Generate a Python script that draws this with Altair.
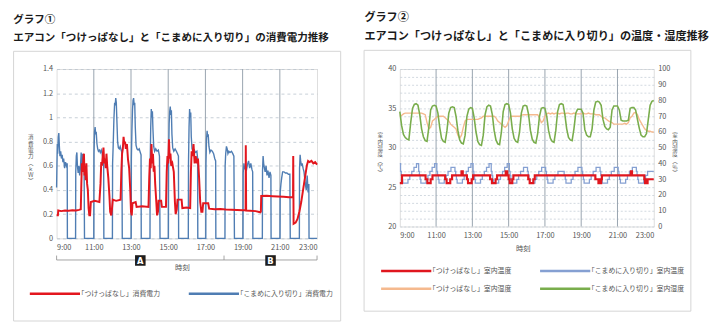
import altair as alt
import pandas as pd

FONT = "Noto Sans CJK JP"
TXT = "#555555"
TITLE_C = "#1a1a1a"
BOX_C = "#d4d4d4"
VLINE_C = "#98a3ae"
GRID_C = "#b9c3cd"

hour_ticks = [9, 11, 13, 15, 17, 19, 21, 23]
hour_lines = [11, 13, 15, 17, 19, 21]

# ---------------- グラフ① data ----------------
g1_title = "グラフ①"
g1_subtitle = "エアコン「つけっぱなし」と「こまめに入り切り」の消費電力推移"
g1_series = ["「つけっぱなし」消費電力", "「こまめに入り切り」消費電力"]
g1_colors = ["#e3161e", "#4f7db3"]
g1_y_title = ["消", "費", "電", "力", "︵", "ｋ", "Ｗ", "︶"]
power_ticks = [0, 0.2, 0.4, 0.6, 0.8, 1.0, 1.2, 1.4]

keep_kw_t = [9.00, 9.07, 9.09, 9.25, 9.45, 9.65, 9.85, 10.05, 10.20, 10.30,
             10.33, 10.36, 10.40, 10.44, 10.47, 10.50, 10.53, 10.57, 10.60, 10.64,
             10.68, 10.72, 10.76, 10.80, 10.84, 11.05, 11.30, 11.36, 11.40, 11.44,
             11.48, 11.52, 11.56, 11.60, 11.64, 11.68, 11.72, 11.78, 11.84, 11.88,
             11.94, 11.98, 12.02, 12.20, 12.44, 12.48, 12.52, 12.56, 12.60, 12.64,
             12.68, 12.72, 12.78, 12.84, 12.90, 12.96, 13.00, 13.04, 13.08, 13.25,
             13.30, 13.60, 13.94, 13.98, 14.02, 14.06, 14.10, 14.14, 14.18, 14.22,
             14.26, 14.30, 14.36, 14.40, 14.45, 14.48, 14.62, 14.66, 14.88, 14.92,
             14.96, 15.00, 15.04, 15.08, 15.12, 15.16, 15.22, 15.30, 15.36, 15.40,
             15.46, 15.50, 15.72, 15.76, 16.00, 16.18, 16.22, 16.26, 16.30, 16.36,
             16.42, 16.48, 16.54, 16.60, 16.66, 16.72, 16.78, 16.84, 16.88, 17.15,
             17.20, 17.50, 17.80, 18.10, 18.40, 18.70, 19.00, 19.16, 19.17, 19.19,
             19.40, 19.70, 19.95, 19.98, 20.00, 20.30, 20.60, 20.90, 21.20, 21.50,
             21.71, 21.72, 21.74, 21.85, 21.95, 22.05, 22.15, 22.25, 22.35, 22.45,
             22.52, 22.60, 22.70, 22.80, 22.90, 23.00]
keep_kw_v = [0.19, 0.19, 0.23, 0.225, 0.23, 0.228, 0.232, 0.23, 0.235, 0.24,
             0.45, 0.62, 0.55, 0.66, 0.70, 0.52, 0.60, 0.48, 0.62, 0.45,
             0.40, 0.25, 0.19, 0.19, 0.30, 0.31, 0.30, 0.45, 0.63, 0.60,
             0.68, 0.75, 0.62, 0.66, 0.58, 0.70, 0.60, 0.50, 0.35, 0.22,
             0.19, 0.25, 0.32, 0.31, 0.32, 0.55, 0.70, 0.74, 0.84, 0.78,
             0.80, 0.74, 0.78, 0.65, 0.58, 0.40, 0.22, 0.19, 0.29, 0.30,
             0.26, 0.265, 0.26, 0.50, 0.66, 0.58, 0.78, 0.62, 0.70, 0.55,
             0.60, 0.45, 0.30, 0.19, 0.22, 0.31, 0.31, 0.26, 0.26, 0.55,
             0.68, 0.62, 0.82, 0.66, 0.70, 0.60, 0.62, 0.55, 0.30, 0.20,
             0.24, 0.32, 0.32, 0.25, 0.255, 0.25, 0.55, 0.72, 0.68, 0.78,
             0.62, 0.68, 0.62, 0.66, 0.50, 0.30, 0.22, 0.22, 0.29, 0.29,
             0.245, 0.24, 0.242, 0.238, 0.236, 0.235, 0.232, 0.232, 0.77, 0.23,
             0.228, 0.225, 0.215, 0.22, 0.35, 0.352, 0.348, 0.345, 0.343, 0.34,
             0.34, 0.68, 0.12, 0.13, 0.16, 0.22, 0.30, 0.40, 0.50, 0.60,
             0.64, 0.63, 0.64, 0.62, 0.63, 0.61]

cycle_kw_t = [9.00, 9.02, 9.04, 9.06, 9.09, 9.12, 9.15, 9.18, 9.22, 9.26, 9.30, 9.34, 9.38, 9.43, 9.48, 9.53, 9.57, 9.58, 10.02,
              10.03, 10.06, 10.09, 10.12, 10.16, 10.20, 10.24, 10.28, 10.32, 10.36, 10.40, 10.44, 10.48, 10.50, 11.00,
              11.01, 11.04, 11.07, 11.10, 11.13, 11.17, 11.21, 11.25, 11.30, 11.35, 11.40, 11.45, 11.50, 11.53, 11.54, 12.00,
              12.01, 12.04, 12.08, 12.12, 12.15, 12.18, 12.21, 12.24, 12.28, 12.32, 12.37, 12.42, 12.47, 12.51, 12.53, 13.01,
              13.02, 13.05, 13.08, 13.11, 13.14, 13.17, 13.20, 13.23, 13.27, 13.32, 13.38, 13.44, 13.50, 13.54, 13.55, 14.02,
              14.03, 14.06, 14.09, 14.12, 14.15, 14.18, 14.22, 14.27, 14.33, 14.40, 14.47, 14.53, 14.56, 15.01,
              15.02, 15.05, 15.08, 15.11, 15.14, 15.17, 15.20, 15.24, 15.30, 15.37, 15.44, 15.50, 15.55, 15.56, 16.08,
              16.09, 16.12, 16.15, 16.18, 16.21, 16.24, 16.28, 16.34, 16.40, 16.47, 16.54, 16.58, 16.59, 17.02,
              17.03, 17.06, 17.09, 17.12, 17.15, 17.19, 17.24, 17.30, 17.37, 17.44, 17.50, 17.55, 17.56, 18.05,
              18.06, 18.09, 18.13, 18.17, 18.21, 18.26, 18.32, 18.40, 18.47, 18.53, 18.56, 19.02,
              19.03, 19.07, 19.11, 19.15, 19.20, 19.26, 19.32, 19.38, 19.44, 19.50, 19.54, 19.55, 20.06,
              20.07, 20.10, 20.13, 20.17, 20.21, 20.26, 20.31, 20.36, 20.42, 20.47, 20.52, 20.53, 21.01,
              21.02, 21.06, 21.10, 21.15, 21.22, 21.30, 21.38, 21.46, 21.54, 21.56, 22.05,
              22.06, 22.09, 22.12, 22.16, 22.20, 22.25, 22.30, 22.36, 22.42, 22.47, 22.52, 22.56, 22.57, 23.00]
cycle_kw_v = [0.42, 0.62, 0.78, 0.70, 0.84, 0.87, 0.76, 0.68, 0.72, 0.66, 0.69, 0.63, 0.66, 0.58, 0.63, 0.60, 0.62, 0.0, 0.0,
              0.55, 0.68, 0.71, 0.60, 0.54, 0.60, 0.52, 0.58, 0.71, 0.60, 0.70, 0.58, 0.56, 0.0, 0.0,
              0.70, 0.88, 0.92, 0.86, 0.88, 0.78, 0.74, 0.72, 0.73, 0.71, 0.73, 0.70, 0.65, 0.63, 0.0, 0.0,
              0.62, 0.76, 0.98, 1.12, 1.10, 1.16, 1.12, 0.98, 0.80, 0.75, 0.74, 0.76, 0.73, 0.71, 0.0, 0.0,
              0.66, 0.90, 1.06, 1.14, 1.16, 1.10, 1.12, 0.92, 0.77, 0.74, 0.73, 0.74, 0.71, 0.69, 0.0, 0.0,
              0.62, 0.92, 1.07, 1.00, 1.05, 0.90, 0.76, 0.72, 0.74, 0.72, 0.73, 0.68, 0.0, 0.0,
              0.64, 0.95, 1.05, 1.09, 1.02, 1.06, 0.86, 0.75, 0.72, 0.74, 0.72, 0.70, 0.68, 0.0, 0.0,
              0.62, 0.92, 1.07, 1.00, 1.04, 0.84, 0.74, 0.72, 0.73, 0.71, 0.72, 0.66, 0.0, 0.0,
              0.62, 0.82, 0.89, 0.84, 0.86, 0.76, 0.71, 0.73, 0.72, 0.70, 0.66, 0.64, 0.0, 0.0,
              0.60, 0.70, 0.76, 0.74, 0.70, 0.72, 0.71, 0.72, 0.70, 0.68, 0.0, 0.0,
              0.54, 0.62, 0.57, 0.60, 0.56, 0.61, 0.64, 0.58, 0.62, 0.57, 0.55, 0.0, 0.0,
              0.56, 0.68, 0.62, 0.58, 0.55, 0.60, 0.52, 0.56, 0.50, 0.55, 0.52, 0.0, 0.0,
              0.38, 0.45, 0.50, 0.55, 0.55, 0.54, 0.54, 0.53, 0.53, 0.0, 0.0,
              0.58, 0.69, 0.64, 0.60, 0.62, 0.58, 0.55, 0.46, 0.40, 0.52, 0.38, 0.45, 0.0, 0.0]

period_start = [9, 18]
period_end = [18, 23]
period_edge = [9, 18, 23]
period_mid = [13.5, 20.5]
period_name = ["A", "B"]

# ---------------- グラフ② data ----------------
g2_title = "グラフ②"
g2_subtitle = "エアコン「つけっぱなし」と「こまめに入り切り」の温度・湿度推移"
g2_series = ["「つけっぱなし」室内温度", "「こまめに入り切り」室内温度",
             "「つけっぱなし」室内湿度", "「こまめに入り切り」室内湿度"]
g2_colors = ["#e0161e", "#85a0d2", "#f5b98e", "#79ad4c"]
g2_y_title = ["室", "内", "温", "度", "︵", "℃", "︶"]
g2_y2_title = ["室", "内", "湿", "度", "︵", "％", "︶"]
temp_ticks = list(range(20, 41))
hum_ticks = [0, 10, 20, 30, 40, 50, 60, 70, 80, 90, 100]

keep_temp_t = [9.00, 9.12, 10.42, 10.52, 10.70, 10.80, 11.50, 11.58, 11.78, 11.88,
               12.40, 12.47, 12.70, 12.76, 12.96, 13.04, 13.98, 14.08, 14.28, 14.36,
               14.84, 14.92, 15.00, 15.06, 15.20, 15.26, 16.08, 16.16, 16.36, 16.44,
               19.78, 19.95, 20.00, 20.05, 20.10, 20.14, 21.74, 21.80, 22.48, 22.52,
               22.56, 22.62, 22.66, 23.00]
keep_temp_v = [25.5, 26.5, 26.0, 25.5, 26.0, 26.5, 26.0, 25.5, 26.0, 26.5,
               27.0, 26.5, 26.0, 25.5, 26.0, 26.5, 26.0, 25.5, 26.0, 26.5,
               27.0, 26.5, 26.0, 25.5, 26.0, 26.5, 26.0, 25.5, 26.0, 26.5,
               26.0, 25.5, 26.0, 25.5, 26.0, 26.5, 27.0, 26.5, 26.0, 25.5,
               26.0, 25.5, 26.0, 26.0]

cycle_temp_t = [9.00, 9.04, 9.08, 9.12, 9.16, 9.45, 9.55, 9.66, 9.78, 9.92,
                10.04, 10.08, 10.12, 10.16, 10.45, 10.55, 10.66, 10.78, 10.92,
                11.04, 11.08, 11.12, 11.16, 11.45, 11.55, 11.66, 11.82,
                12.04, 12.08, 12.12, 12.16, 12.45, 12.55, 12.66, 12.78, 12.92,
                13.04, 13.08, 13.12, 13.16, 13.45, 13.55, 13.66, 13.78, 13.92,
                14.04, 14.08, 14.12, 14.16, 14.45, 14.55, 14.66, 14.78, 14.92,
                15.04, 15.08, 15.12, 15.16, 15.45, 15.55, 15.66, 15.82,
                16.04, 16.08, 16.12, 16.16, 16.45, 16.55, 16.66, 16.82,
                17.04, 17.08, 17.12, 17.16, 17.45, 17.55, 17.72,
                18.06, 18.12, 18.16, 18.45, 18.55, 18.66, 18.82,
                19.04, 19.08, 19.12, 19.16, 19.45, 19.55, 19.66, 19.82,
                20.04, 20.08, 20.12, 20.16, 20.45, 20.55, 20.66, 20.82,
                21.04, 21.08, 21.12, 21.16, 21.45, 21.55, 21.66, 21.82,
                22.04, 22.08, 22.12, 22.16, 22.45, 22.55, 22.66, 23.00]
cycle_temp_v = [28.0, 27.0, 26.5, 26.0, 25.5, 26.0, 26.5, 27.0, 27.5, 28.0,
                27.0, 26.5, 26.0, 25.5, 26.0, 26.5, 27.0, 27.5, 28.0,
                27.0, 26.5, 26.0, 25.5, 26.0, 26.5, 27.0, 27.5,
                27.0, 26.5, 26.0, 25.5, 26.0, 26.5, 27.0, 27.5, 28.0,
                27.0, 26.5, 26.0, 25.5, 26.0, 26.5, 27.0, 27.5, 28.0,
                27.0, 26.5, 26.0, 25.5, 26.0, 26.5, 27.0, 27.5, 28.0,
                27.0, 26.5, 26.0, 25.5, 26.0, 26.5, 27.0, 27.5,
                27.0, 26.5, 26.0, 25.5, 26.0, 26.5, 27.0, 27.5,
                27.0, 26.5, 26.0, 25.5, 26.0, 26.5, 27.0,
                26.5, 26.0, 25.5, 26.0, 26.5, 27.0, 27.5,
                27.0, 26.5, 26.0, 25.5, 26.0, 26.5, 27.0, 27.5,
                27.0, 26.5, 26.0, 25.5, 26.0, 26.5, 27.0, 27.5,
                27.0, 26.5, 26.0, 25.5, 26.0, 26.5, 27.0, 27.5,
                27.0, 26.5, 26.0, 25.5, 26.0, 26.5, 27.0, 27.0]

# humidity sampled every 6 minutes (rows = hours 9..22, values at :00, :06, ... :54)
keep_hum_rows = [
    [70, 70.5, 71.5, 72, 72, 72, 72, 72, 72, 72],
    [72, 72, 72, 71.5, 71, 66, 62, 63, 67, 68],
    [69, 70, 70, 70, 70, 69, 68, 67, 65, 64],
    [63, 62, 58, 56, 58, 63, 67, 68, 68, 68],
    [68, 68, 68, 68, 68.5, 69, 70, 70, 70, 70],
    [70, 70, 70, 69, 67, 66, 65, 64, 63, 64],
    [67, 70, 70, 70, 70, 70, 70, 70.5, 71, 71],
    [71, 71, 71, 71, 71, 71, 71, 69, 66, 67],
    [70, 71.5, 72, 71.5, 72, 71.5, 72, 72, 71.5, 72],
    [72, 71.5, 72, 72, 71.5, 71.5, 72, 71.5, 71.5, 71.5],
    [71.5, 72, 71.5, 71.5, 72, 71.5, 71.5, 71.5, 71, 71],
    [71, 70, 69, 69, 68, 67, 66.5, 66, 65, 65],
    [65, 65, 65, 65, 65.5, 65, 66, 69, 70, 72],
    [72.5, 71, 68, 66, 64, 62, 61, 60.5, 60.5, 60],
]
keep_hum_end = 60
cycle_hum_rows = [
    [73, 64, 58.5, 56.5, 55.5, 55, 66, 75, 77.5, 78],
    [77, 71, 62, 57, 54.5, 54, 63, 74, 76.5, 77],
    [76.5, 72, 63, 56, 54, 53.5, 61, 72, 75.5, 76],
    [75.5, 70, 61, 55, 53, 52.5, 58, 70, 74.5, 75.5],
    [75, 69, 60, 54, 52, 51.5, 58, 71, 76, 77],
    [76.5, 71, 61, 55, 52.5, 52, 60, 73, 77.5, 78],
    [77.5, 72, 62, 56, 54, 53.5, 60, 72, 76.5, 77],
    [76.5, 71, 61, 55.5, 53.5, 53, 59, 70, 75, 75.5],
    [75, 70, 61, 56, 54, 53.5, 61, 73, 77.5, 78],
    [77.5, 71, 62, 56.5, 55, 54.5, 62, 72, 74.5, 74.5],
    [74.5, 72, 61.5, 58, 57, 57, 62, 74, 79, 79.5],
    [79, 77, 68, 63.5, 62, 61.5, 63, 74, 76.5, 76.5],
    [76.5, 74, 67.5, 67, 67, 67, 67.5, 75, 75.5, 75.5],
    [74, 68, 62.5, 58, 57, 57, 59, 68, 77, 79.5],
]
cycle_hum_end = 80

hum_hours = [round(9 + i / 10, 1) for i in range(141)]
keep_hum_v = [v for row in keep_hum_rows for v in row] + [keep_hum_end]
cycle_hum_v = [v for row in cycle_hum_rows for v in row] + [cycle_hum_end]


def frame(t, v, name, key):
    return pd.DataFrame({"時刻": t, key: v, "系列": name, "順": list(range(len(t)))})


one = pd.DataFrame({"k": [0]})
xs = alt.Scale(domain=[9, 23], nice=False, zero=False)


def x_axis(title_x, title_y):
    return alt.Axis(values=hour_ticks, labelExpr="datum.value + ':00'", grid=False, ticks=False,
                    domain=False, labelFontSize=7.5, labelColor=TXT, labelPadding=5, labelFont=FONT,
                    title="時刻", titleFont=FONT, titleFontSize=7.5, titleFontWeight="normal",
                    titleColor=TXT, titleX=title_x, titleY=title_y, titleAlign="center",
                    titleBaseline="middle")


def y_title_kw(lines, tx, ty):
    return dict(title=lines, titleAngle=360, titleX=tx, titleY=ty, titleAlign="center",
                titleBaseline="top", titleFontSize=5.6, titleLineHeight=6.4,
                titleFontWeight="normal", titleColor=TXT, titleFont=FONT)


def title_layers(x0, y1, y2, line1, line2, size):
    a = alt.Chart(one).mark_text(align="left", baseline="middle", fontSize=size, fontWeight="bold",
                                 color=TITLE_C, font=FONT).encode(
        x=alt.value(x0), y=alt.value(y1), text=alt.value(line1))
    b = alt.Chart(one).mark_text(align="left", baseline="middle", fontSize=size, fontWeight="bold",
                                 color=TITLE_C, font=FONT).encode(
        x=alt.value(x0), y=alt.value(y2), text=alt.value(line2))
    return a, b


def box_layer(x1, x2, y1, y2):
    return alt.Chart(one).mark_rect(fillOpacity=0, stroke=BOX_C, strokeWidth=1).encode(
        x=alt.value(x1), x2=alt.value(x2), y=alt.value(y1), y2=alt.value(y2))


def legend(lx, ly):
    return alt.Legend(orient="none", legendX=lx, legendY=ly, direction="horizontal", columns=2,
                      title=None, symbolType="M-5.1,0H5.1", symbolSize=100, symbolStrokeWidth=2.5,
                      labelOffset=16.5, columnPadding=23.5, rowPadding=6.2, labelFontSize=7,
                      labelColor=TXT, labelFont=FONT, labelLimit=300)


# ---------------- グラフ① chart ----------------
W1, H1 = 264.6, 172
xa1 = x_axis(127.3, 30)
X1 = alt.X("時刻:Q", scale=xs, axis=xa1)
ya1 = alt.Axis(values=power_ticks, format="~f", grid=True, gridDash=[3, 3], gridColor=GRID_C,
               gridWidth=0.8, ticks=False, domain=False, labelFontSize=7.5, labelColor=TXT,
               labelPadding=4, labelFont=FONT, **y_title_kw(g1_y_title, -26.7, 67))
ys1 = alt.Scale(domain=[0, 1.4], nice=False, zero=True)
c1 = alt.Color("系列:N", scale=alt.Scale(domain=g1_series, range=g1_colors), legend=legend(-8.2, 221.5))

df_cycle_kw = frame(cycle_kw_t, cycle_kw_v, g1_series[1], "消費電力")
df_keep_kw = frame(keep_kw_t, keep_kw_v, g1_series[0], "消費電力")

box1 = box_layer(-43.7, 288.6, -18, 256)
t1a, t1b = title_layers(-44, -50, -31, g1_title, g1_subtitle, 10.7)
vr1 = alt.Chart(pd.DataFrame({"時刻": hour_lines})).mark_rule(color=VLINE_C, strokeWidth=1).encode(x=X1)
line_cycle_kw = alt.Chart(df_cycle_kw).mark_line(strokeWidth=1.4).encode(
    x=X1, y=alt.Y("消費電力:Q", scale=ys1, axis=ya1), color=c1, order="順:Q")
line_keep_kw = alt.Chart(df_keep_kw).mark_line(strokeWidth=2).encode(
    x=X1, y=alt.Y("消費電力:Q", scale=ys1, axis=ya1), color=c1, order="順:Q")
bracket = alt.Chart(pd.DataFrame({"時刻": period_start, "終了": period_end})).mark_rule(
    color="#8c8c8c", strokeWidth=0.8).encode(x=X1, x2="終了:Q", y=alt.value(194))
bracket_ends = alt.Chart(pd.DataFrame({"時刻": period_edge})).mark_rule(
    color="#8c8c8c", strokeWidth=0.8).encode(x=X1, y=alt.value(189.5), y2=alt.value(194))
period_df = pd.DataFrame({"時刻": period_mid, "区間": period_name})
period_box = alt.Chart(period_df).mark_square(size=115, color="#1e1e1e", opacity=1, filled=True).encode(
    x=X1, y=alt.value(194.5))
period_txt = alt.Chart(period_df).mark_text(color="white", fontWeight="bold", fontSize=8.5,
                                            font="DejaVu Sans", baseline="middle").encode(
    x=X1, y=alt.value(195), text="区間:N")

left = alt.layer(box1, t1a, t1b, vr1, line_cycle_kw, line_keep_kw, bracket, bracket_ends,
                 period_box, period_txt).properties(width=W1, height=H1)

# ---------------- グラフ② chart ----------------
W2, H2 = 258, 160
xa2 = x_axis(125, 22)
X2 = alt.X("時刻:Q", scale=xs, axis=xa2)
ya2 = alt.Axis(orient="left", values=temp_ticks,
               labelExpr="datum.value % 5 == 0 ? datum.label : ''", labelOverlap=False,
               grid=True, gridDash=[2, 2], gridColor="#c6ced7", gridWidth=0.8, ticks=False,
               domain=False, labelFontSize=7.5, labelColor=TXT, labelPadding=4, labelFont=FONT,
               **y_title_kw(g2_y_title, -20.3, 65))
ya2r = alt.Axis(orient="right", values=hum_ticks, grid=False, ticks=False, domain=False,
                labelFontSize=7.5, labelColor=TXT, labelPadding=4, labelFont=FONT,
                **y_title_kw(g2_y2_title, 21, 65))
ys_t = alt.Scale(domain=[20, 40], nice=False, zero=False)
ys_h = alt.Scale(domain=[0, 100], nice=False, zero=True)
c2 = alt.Color("系列:N", scale=alt.Scale(domain=g2_series, range=g2_colors), legend=legend(0, 198.5))

df_keep_temp = frame(keep_temp_t, keep_temp_v, g2_series[0], "温度")
df_cycle_temp = frame(cycle_temp_t, cycle_temp_v, g2_series[1], "温度")
df_keep_hum = frame(hum_hours, keep_hum_v, g2_series[2], "湿度")
df_cycle_hum = frame(hum_hours, cycle_hum_v, g2_series[3], "湿度")

box2 = box_layer(-36.3, 295.7, -19, 246)
t2a, t2b = title_layers(-36, -51.5, -32, g2_title, g2_subtitle, 11.3)
vr2 = alt.Chart(pd.DataFrame({"時刻": hour_lines})).mark_rule(color=VLINE_C, strokeWidth=1).encode(x=X2)
line_cycle_temp = alt.Chart(df_cycle_temp).mark_line(strokeWidth=1.3, interpolate="step-after").encode(
    x=X2, y=alt.Y("温度:Q", scale=ys_t, axis=ya2), color=c2, order="順:Q")
line_keep_temp = alt.Chart(df_keep_temp).mark_line(strokeWidth=2.2, interpolate="step-after").encode(
    x=X2, y=alt.Y("温度:Q", scale=ys_t, axis=ya2), color=c2, order="順:Q")
line_keep_hum = alt.Chart(df_keep_hum).mark_line(strokeWidth=1.4).encode(
    x=X2, y=alt.Y("湿度:Q", scale=ys_h, axis=ya2r), color=c2, order="順:Q")
line_cycle_hum = alt.Chart(df_cycle_hum).mark_line(strokeWidth=1.6).encode(
    x=X2, y=alt.Y("湿度:Q", scale=ys_h, axis=ya2r), color=c2, order="順:Q")

temp_part = alt.layer(box2, t2a, t2b, vr2, line_cycle_temp, line_keep_temp)
hum_part = alt.layer(line_keep_hum, line_cycle_hum)
right = alt.layer(temp_part, hum_part).resolve_scale(y="independent").properties(width=W2, height=H2)

chart = alt.hconcat(left, right, spacing=20.7).resolve_scale(color="independent").properties(
    padding={"left": 12.5, "top": 9.5, "right": 10, "bottom": 5}
).configure_view(fill="#edf5fb", stroke=None).configure(font=FONT)

chart.save("out.html", embed_options={"renderer": "svg", "actions": False})
